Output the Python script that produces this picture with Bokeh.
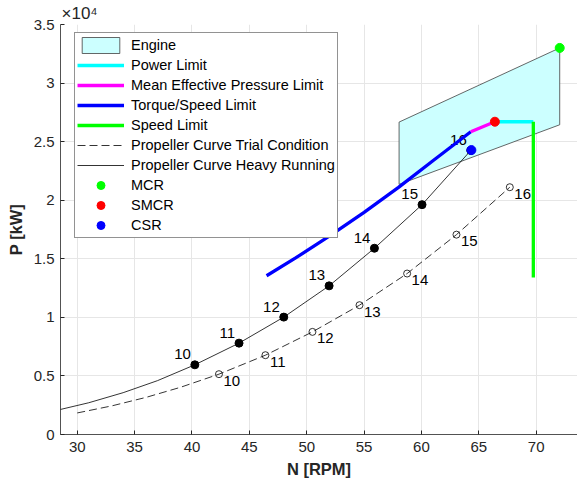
from bokeh.plotting import figure
from bokeh.models import (Range1d, FixedTicker, CustomJSTickFormatter, Legend, LegendItem,
                          ColumnDataSource)
from bokeh.core.properties import value
from bokeh.embed import file_html
from bokeh.resources import INLINE

FONT = "Liberation Sans"

# ---- data ----
x_ticks = [30, 35, 40, 45, 50, 55, 60, 65, 70]
y_ticks = [0, 5000, 10000, 15000, 20000, 25000, 30000, 35000]

engine_rpm = [58.05, 58.05, 72.05, 72.05]
engine_kw = [21350, 26670, 33000, 26440]

torque_rpm = [46.5, 49, 52, 55, 58, 61, 64.3]
torque_kw = [13550, 15050, 16950, 18960, 21100, 23370, 25850]

mep_rpm = [64.3, 65.4, 66.4]
mep_kw = [25850, 26300, 26700]

power_rpm = [66.4, 69.75]
power_kw = [26700, 26700]

speed_rpm = [69.75, 69.75]
speed_kw = [26700, 13400]

# propeller curve, heavy running
heavy_curve_rpm = [28.5, 31, 34, 37, 40.25, 44.1, 48.0, 51.95, 55.9, 60.05, 64.3]
heavy_curve_kw = [2130, 2710, 3570, 4600, 5950, 7800, 10020, 12690, 15900, 19620, 24250]
heavy_pts_rpm = [40.25, 44.1, 48.0, 51.95, 55.9, 60.05, 64.3]
heavy_pts_kw = [5950, 7800, 10020, 12690, 15900, 19620, 24250]
heavy_labels = ["10", "11", "12", "13", "14", "15", "16"]

# propeller curve, trial condition
trial_curve_rpm = [30, 33, 36, 39, 42.35, 46.4, 50.5, 54.6, 58.75, 63.05, 67.7]
trial_curve_kw = [1840, 2440, 3170, 4030, 5150, 6770, 8760, 11040, 13740, 17060, 21110]
trial_pts_rpm = [42.35, 46.4, 50.5, 54.6, 58.75, 63.05, 67.7]
trial_pts_kw = [5150, 6770, 8760, 11040, 13740, 17060, 21110]
trial_labels = ["10", "11", "12", "13", "14", "15", "16"]

mcr = (72.05, 33000)
smcr = (66.4, 26700)
csr = (64.35, 24280)

# ---- figure ----
p = figure(width=577, height=489, output_backend="svg", toolbar_location=None,
           x_range=Range1d(28.54, 73.6), y_range=Range1d(0, 35000),
           min_border_left=60, min_border_right=0, min_border_top=23, min_border_bottom=55)
p.outline_line_color = None
p.background_fill_color = "white"

p.title.text = "\u00d710\u2074"
p.title.align = "left"
p.title.offset = 1
p.title.standoff = 3
p.title.text_font = FONT
p.title.text_font_size = "17px"
p.title.text_font_style = "normal"
p.title.text_color = "#262626"

for ax in (p.xaxis[0], p.yaxis[0]):
    ax.axis_line_color = "#262626"
    ax.axis_line_width = 0.8
    ax.major_tick_line_color = "#262626"
    ax.major_tick_in = 4
    ax.major_tick_out = 0
    ax.minor_tick_line_color = None
    ax.major_label_text_font = FONT
    ax.major_label_text_font_size = "15px"
    ax.major_label_text_color = "#262626"
    ax.axis_label_text_font = FONT
    ax.axis_label_text_font_size = "16.5px"
    ax.axis_label_text_font_style = "bold"
    ax.axis_label_text_color = "#262626"

p.xaxis.ticker = FixedTicker(ticks=x_ticks)
p.yaxis.ticker = FixedTicker(ticks=y_ticks)
p.yaxis.formatter = CustomJSTickFormatter(code="return (tick/10000).toString();")
p.xaxis.axis_label = "N [RPM]"
p.yaxis.axis_label = "P [kW]"
p.xaxis.major_label_standoff = 7
p.yaxis.major_label_standoff = 6
p.xaxis.axis_label_standoff = 5
p.yaxis.axis_label_standoff = 6

p.xgrid.grid_line_color = "#e6e6e6"
p.ygrid.grid_line_color = "#e6e6e6"

# engine envelope
r_engine = p.patch(engine_rpm, engine_kw, fill_color="#ccffff", line_color="#404040", line_width=0.8)

# propeller curves
r_trial = p.line(trial_curve_rpm, trial_curve_kw, line_color="black", line_width=0.8, line_dash="8 4")
r_heavy = p.line(heavy_curve_rpm, heavy_curve_kw, line_color="black", line_width=0.8)
p.scatter(heavy_pts_rpm, heavy_pts_kw, marker="circle", size=8, fill_color="black", line_color="black")
p.scatter(trial_pts_rpm, trial_pts_kw, marker="circle", size=7, fill_color=None, line_color="black",
          line_width=0.8)

hsrc = ColumnDataSource(dict(x=heavy_pts_rpm, y=heavy_pts_kw, t=heavy_labels))
tsrc = ColumnDataSource(dict(x=trial_pts_rpm, y=trial_pts_kw, t=trial_labels))
p.text(x="x", y="y", text="t", source=hsrc, text_font=value(FONT), text_font_size="15px",
       text_color="black", text_align="right", text_baseline="alphabetic", x_offset=-4, y_offset=-10.5)
p.text(x="x", y="y", text="t", source=tsrc, text_font=value(FONT), text_font_size="15px",
       text_color="black", text_align="left", text_baseline="alphabetic", x_offset=4.5, y_offset=6.5)

# limits
r_torque = p.line(torque_rpm, torque_kw, line_color="#0000ff", line_width=3.3)
r_mep = p.line(mep_rpm, mep_kw, line_color="#ff00ff", line_width=3.3)
r_power = p.line(power_rpm, power_kw, line_color="#00ffff", line_width=3.3)
r_speed = p.line(speed_rpm, speed_kw, line_color="#00ff00", line_width=3.3)

r_mcr = p.scatter([mcr[0]], [mcr[1]], marker="circle", size=9, fill_color="#00ff00", line_color="#00ff00")
r_smcr = p.scatter([smcr[0]], [smcr[1]], marker="circle", size=9, fill_color="#ff0000", line_color="#ff0000")
r_csr = p.scatter([csr[0]], [csr[1]], marker="circle", size=9, fill_color="#0000ff", line_color="#0000ff")

legend = Legend(items=[
    LegendItem(label="Engine", renderers=[r_engine]),
    LegendItem(label="Power Limit", renderers=[r_power]),
    LegendItem(label="Mean Effective Pressure Limit", renderers=[r_mep]),
    LegendItem(label="Torque/Speed Limit", renderers=[r_torque]),
    LegendItem(label="Speed Limit", renderers=[r_speed]),
    LegendItem(label="Propeller Curve Trial Condition", renderers=[r_trial]),
    LegendItem(label="Propeller Curve Heavy Running", renderers=[r_heavy]),
    LegendItem(label="MCR", renderers=[r_mcr]),
    LegendItem(label="SMCR", renderers=[r_smcr]),
    LegendItem(label="CSR", renderers=[r_csr]),
], location=(14, 196))
legend.label_text_font = FONT
legend.label_text_font_size = "14.5px"
legend.label_text_color = "black"
legend.glyph_width = 47
legend.glyph_height = 20
legend.label_height = 20
legend.label_standoff = 7
legend.spacing = 0
legend.padding = 2
legend.margin = 0
legend.border_line_color = "#262626"
legend.border_line_width = 0.8
legend.background_fill_color = "white"
legend.background_fill_alpha = 1
p.add_layout(legend)

open("out.html", "w").write(file_html(p, INLINE))
